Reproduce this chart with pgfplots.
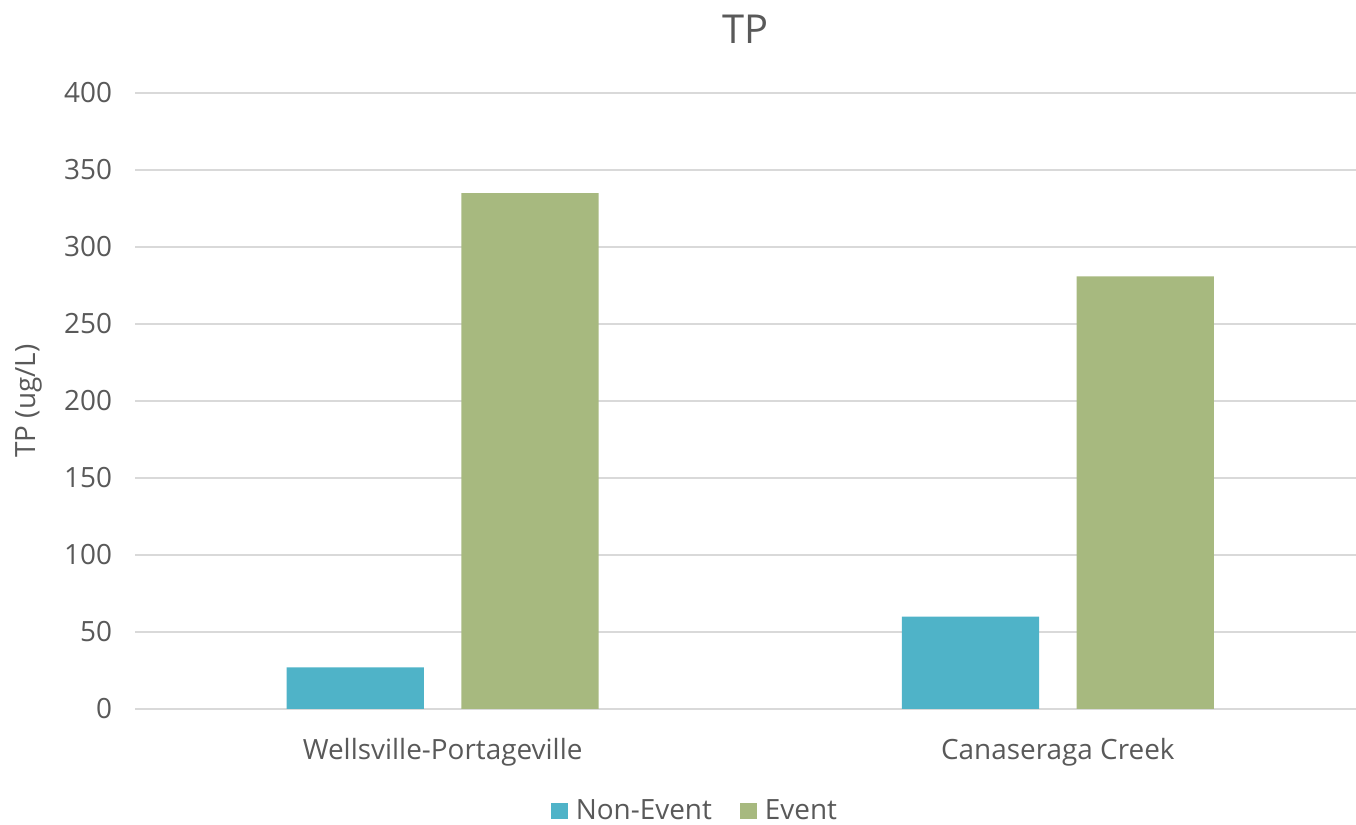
\documentclass[border=0pt]{standalone}
\usepackage{fontspec}
\setmainfont{Open Sans}
\usepackage{pgfplots}
\pgfplotsset{compat=1.18}
\definecolor{txt}{HTML}{595959}
\definecolor{gridc}{HTML}{D9D9D9}
\definecolor{nonev}{HTML}{4FB3C8}
\definecolor{ev}{HTML}{A7B97F}
\begin{document}
\begin{tikzpicture}
\useasboundingbox (0,0) rectangle (678bp,412.5bp);
\begin{axis}[
  at={(67.5bp,58bp)}, anchor=south west,
  scale only axis, width=610.5bp, height=308bp,
  xmin=-0.5, xmax=1.4846, ymin=0, ymax=400,
  xtick={0,1}, xticklabels={Wellsville-Portageville, Canaseraga Creek},
  ytick={0,50,...,400},
  ymajorgrids, grid style={gridc, line width=0.75bp},
  axis x line*=bottom, axis y line*=left,
  x axis line style={gridc, line width=0.75bp, -},
  y axis line style={draw=none},
  major tick length=0pt,
  tick label style={txt, font=\fontsize{14}{16}\selectfont},
  xticklabel style={yshift=-11bp},
  yticklabel style={xshift=-8bp},
  ylabel={TP (ug/L)},
  ylabel style={txt, font=\fontsize{14}{16}\selectfont, at={(rel axis cs:0,0.5)}, anchor=center, yshift=53bp},
  title={TP},
  title style={txt, font=\fontsize{20}{24}\selectfont, at={(0.5,1)}, anchor=center, yshift=26bp},
  /pgf/number format/assume math mode=true,
  legend style={at={(rel axis cs:0.4594,-0.1656)}, anchor=center, draw=none, legend columns=2,
    font=\fontsize{14}{16}\selectfont, text=txt,
    /tikz/every even column/.append style={column sep=12bp}},
  legend image code/.code={\fill[#1] (0bp,-4.2bp) rectangle (8.5bp,4.2bp);},
  bar width=0.223,
]
\addplot[ybar, bar shift=-0.142, fill=nonev, draw=none] coordinates {(0,27) (1,60)};
\addplot[ybar, bar shift=0.142, fill=ev, draw=none] coordinates {(0,335) (1,281)};
\legend{\hspace{2bp}Non-Event, \hspace{2bp}Event}
\end{axis}
\end{tikzpicture}
\end{document}
